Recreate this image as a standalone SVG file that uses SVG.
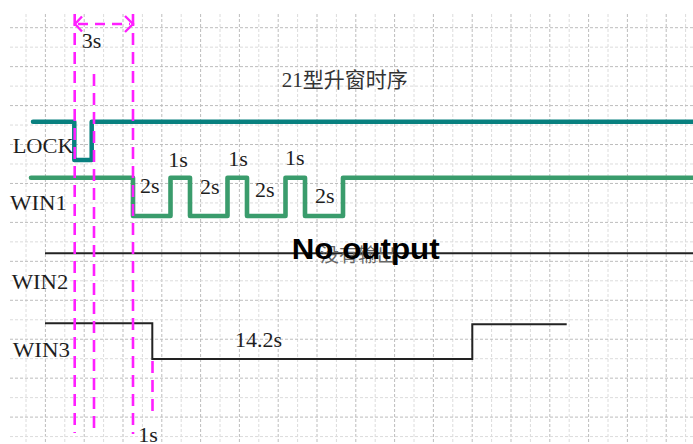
<svg xmlns="http://www.w3.org/2000/svg" width="693" height="444" viewBox="0 0 693 444">
<style>
.gd{fill:none;stroke:#bdbdbd;stroke-width:1;stroke-dasharray:3 2}
.gl{fill:none;stroke:#dcdcdc;stroke-width:1;stroke-dasharray:3 2}
.t{font-family:"Liberation Serif","Noto Sans CJK SC",serif;font-size:22px;fill:#1e1e1e}
.mg{fill:none;stroke:#ff1fff;stroke-width:2.6;stroke-dasharray:12 7}
.bk{fill:none;stroke:#222;stroke-width:2}
</style>
<rect width="693" height="444" fill="#fff"/>
<g id="grid">
<path class="gl" d="M26,14V444M64.8,14V444M103.6,14V444M142.4,14V444M181.2,14V444M220,14V444M258.8,14V444M297.6,14V444M336.4,14V444M375.2,14V444M414,14V444M452.8,14V444M491.6,14V444M530.4,14V444M569.2,14V444M608,14V444M646.8,14V444M685.6,14V444"/>
<path class="gd" d="M45.4,14V444M84.2,14V444M123,14V444M161.8,14V444M200.6,14V444M239.4,14V444M278.2,14V444M317,14V444M355.8,14V444M394.6,14V444M433.4,14V444M472.2,14V444M511,14V444M549.8,14V444M588.6,14V444M627.4,14V444M666.2,14V444"/>
<path class="gd" d="M10,27.7H693M10,66.64H693M10,105.58H693M10,144.52H693M10,183.46H693M10,222.4H693M10,261.34H693M10,300.28H693M10,339.22H693M10,378.16H693M10,417.1H693"/>
<path class="gl" d="M10,47.17H693M10,86.11H693M10,125.05H693M10,163.99H693M10,202.93H693M10,241.87H693M10,280.81H693M10,319.75H693M10,358.69H693M10,397.63H693M10,436.57H693"/>
</g>
<text class="t" x="281.7" y="87" style="font-size:21px;fill:#333">21型升窗时序</text>
<g id="lock">
<path d="M33,121.7H74.3V160H91.7V121.7H693" fill="none" stroke="#08807f" stroke-width="4.5" stroke-linecap="round" stroke-linejoin="round"/>
<text class="t" x="12.7" y="152.5" textLength="61" lengthAdjust="spacingAndGlyphs">LOCK</text>
</g>
<g id="win1">
<path d="M31,177.7H133V216H170.5V177.7H190V216H227.5V177.7H247V216H285.5V177.7H305V216H343V177.7H693" fill="none" stroke="#3a9c6c" stroke-width="4.6" stroke-linecap="round" stroke-linejoin="round"/>
<text class="t" x="10" y="210" textLength="57" lengthAdjust="spacingAndGlyphs">WIN1</text>
<text class="t" x="140" y="192.5">2s</text>
<text class="t" x="168.3" y="167">1s</text>
<text class="t" x="200" y="194">2s</text>
<text class="t" x="228.3" y="165.5">1s</text>
<text class="t" x="255" y="197">2s</text>
<text class="t" x="285" y="164.5">1s</text>
<text class="t" x="315" y="203">2s</text>
</g>
<g id="win2">
<path class="bk" d="M45,253.3H693"/>
<text class="t" x="11.7" y="289" textLength="56.6" lengthAdjust="spacingAndGlyphs">WIN2</text>
<text x="320" y="262" style="font-family:'Noto Sans CJK SC',sans-serif;font-size:19px;fill:#666">没有输出</text>
<text x="291.7" y="258.5" textLength="148" lengthAdjust="spacingAndGlyphs" style="font-family:'Liberation Sans',Arial,sans-serif;font-weight:bold;font-size:29px;fill:#000">No output</text>
</g>
<g id="win3">
<path class="bk" d="M45,323.3H152.3V359H472.3V324.3H566.7"/>
<text class="t" x="12.7" y="357" textLength="57.3" lengthAdjust="spacingAndGlyphs">WIN3</text>
<text class="t" x="235" y="346.7">14.2s</text>
</g>
<g id="connectors">
<path class="mg" d="M74.7,14V433"/>
<path class="mg" d="M94,74V432"/>
<path class="mg" d="M133,14V434"/>
<path class="mg" d="M152.5,361V417"/>
<path d="M78,24H130" fill="none" stroke="#ff1fff" stroke-width="2.4" stroke-dasharray="10 7"/>
<polyline points="82,16.5 75,24 82,31.5" fill="none" stroke="#ff1fff" stroke-width="2.4"/>
<polyline points="125,16 133,24 125,32" fill="none" stroke="#ff1fff" stroke-width="2.4"/>
</g>
<text class="t" x="81.7" y="47.7">3s</text>
<text class="t" x="138.3" y="441.7">1s</text>
</svg>
